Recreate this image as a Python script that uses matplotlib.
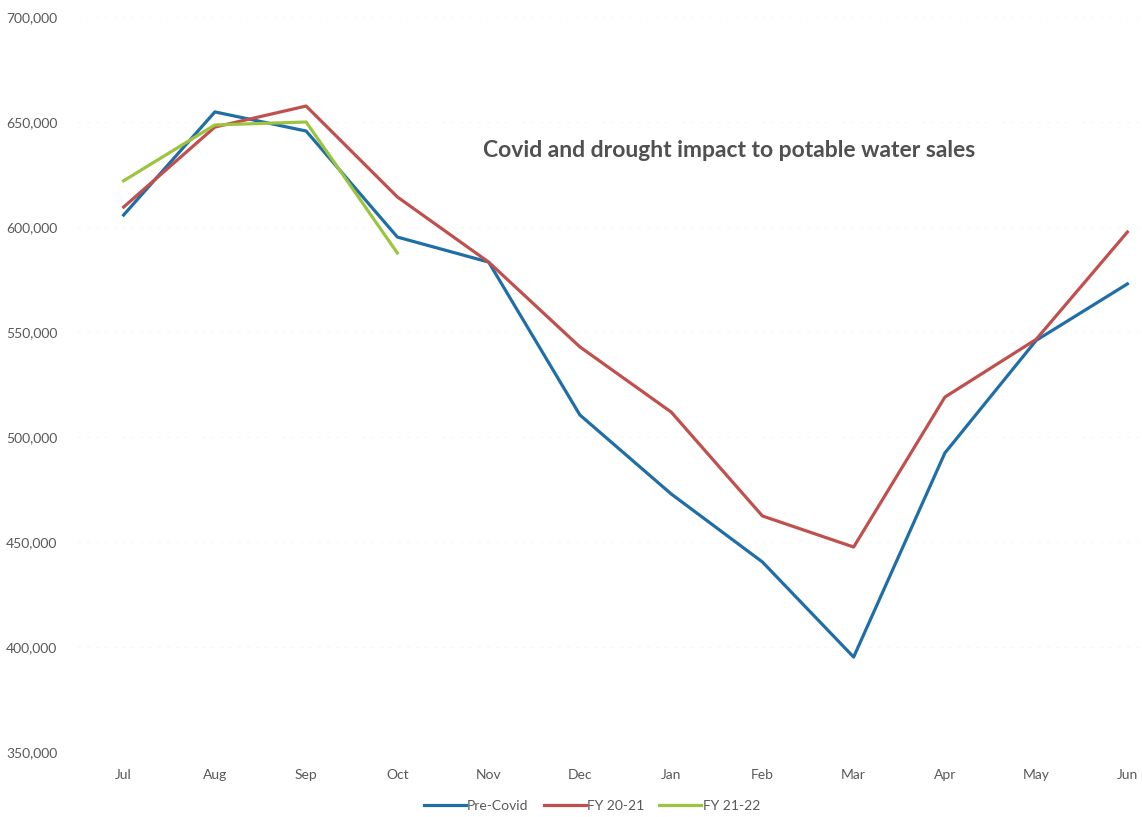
import matplotlib.pyplot as plt
from matplotlib.ticker import FuncFormatter

months = ["Jul", "Aug", "Sep", "Oct", "Nov", "Dec", "Jan", "Feb", "Mar", "Apr", "May", "Jun"]
pre_covid = [605700, 654800, 645700, 595200, 583300, 510500, 472900, 440500, 395200, 492400, 546000, 572900]
fy_20_21 = [609500, 647600, 657600, 614300, 583300, 542900, 511900, 462400, 447600, 519000, 546500, 597600]
fy_21_22 = [622000, 648600, 650000, 587600]

plt.rcParams['font.family'] = ['Lato', 'DejaVu Sans']

fig = plt.figure(figsize=(11.42, 8.17), dpi=100)
ax = fig.add_axes([78 / 1142, 65 / 817, 1 - 78 / 1142, 735 / 817])

x = range(len(months))
ax.plot(x, pre_covid, color="#1f6ea6", lw=2.3, label="Pre-Covid")
ax.plot(x, fy_20_21, color="#c0504d", lw=2.3, label="FY 20-21")
ax.plot(range(len(fy_21_22)), fy_21_22, color="#9cc43f", lw=2.3, label="FY 21-22")

ax.set_ylim(350000, 700000)
ax.set_xlim(-0.5, 11.16)
ax.set_yticks(range(350000, 700001, 50000))
ax.yaxis.set_major_formatter(FuncFormatter(lambda v, p: f"{int(v):,}"))
ax.set_xticks(list(x))
ax.set_xticklabels(months)
ax.tick_params(length=0, labelsize=10, colors="#595959", pad=12)
ax.tick_params(axis="y", pad=15)
ax.grid(axis="y", color="#f7f7f7", lw=0.8, ls=(0, (2, 6)))
for s in ax.spines.values():
    s.set_visible(False)

ax.text(0.612, 0.819, "Covid and drought impact to potable water sales",
        transform=ax.transAxes, ha="center", va="center",
        fontsize=16.5, fontweight="bold", color="#505050")

fig.legend(loc="center", bbox_to_anchor=(592 / 1142, 11 / 817), ncol=3, frameon=False,
           fontsize=10, labelcolor="#595959", handlelength=3.0, handletextpad=0.1,
           columnspacing=1.1)

fig.savefig("out.png", dpi=100)
